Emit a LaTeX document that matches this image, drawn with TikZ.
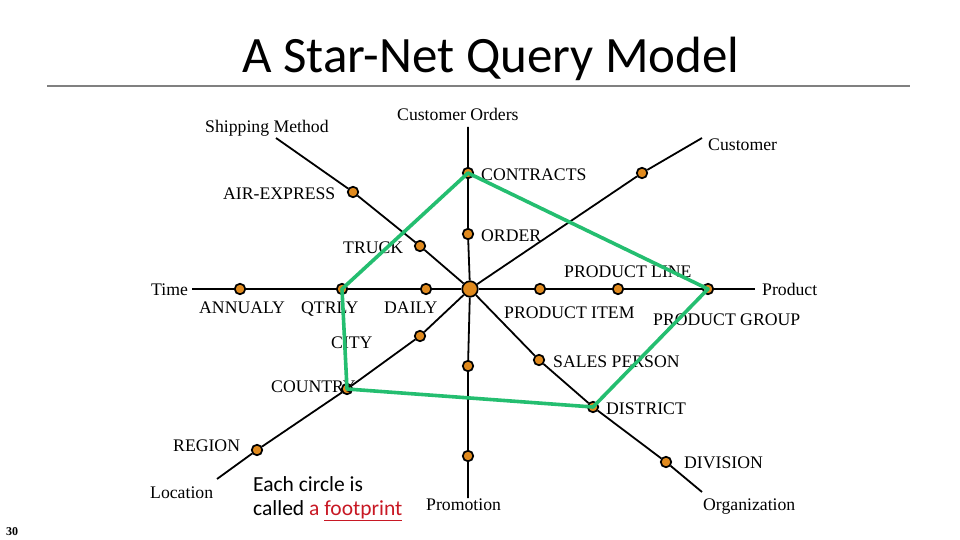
\documentclass[tikz,border=0pt]{standalone}
\usepackage{fontspec}
\setmainfont{Liberation Serif}
\newfontfamily\titlefont{Carlito}
\definecolor{dotorange}{RGB}{224,138,30}
\definecolor{netgreen}{RGB}{36,190,112}
\definecolor{fpred}{RGB}{200,24,36}
\definecolor{rulegray}{RGB}{128,128,128}
\pgfdeclarelayer{back}
\pgfdeclarelayer{bg}
\pgfdeclarelayer{fg}
\pgfsetlayers{back,bg,main,fg}
\begin{document}
\begin{tikzpicture}[x=1pt,y=-1pt,
  dot/.style={circle,draw=black,line width=1.7pt,fill=dotorange,minimum size=10.5pt,inner sep=0pt},
  bigdot/.style={dot,minimum size=15.5pt},
  axis/.style={line width=1.8pt,black},
  lbl/.style={font=\fontsize{17.7}{20}\selectfont,inner sep=0pt,anchor=base west},
  net/.style={line width=3.6pt,netgreen,line join=round},
  fptext/.style={font=\titlefont\fontsize{21.5}{24}\selectfont,inner sep=0pt,anchor=base west}]
\useasboundingbox (0,0) rectangle (960,540);
\begin{pgfonlayer}{back}
\fill[white] (0,0) rectangle (960,540);
\end{pgfonlayer}

% title and rule
\node[font=\titlefont\fontsize{51}{56}\selectfont,inner sep=0pt,anchor=base west] (title) at (242,73) {A Star-Net Query Model};
\coordinate (ruleL) at (47,86);
\coordinate (ruleR) at (910,86);
\draw[rulegray,line width=1.3pt] (ruleL) -- (ruleR);

% axis end points
\coordinate (shipEnd) at (276,138);
\coordinate (coEnd) at (468,127);
\coordinate (cuEnd) at (702,138);
\coordinate (timeEnd) at (192,289);
\coordinate (prodEnd) at (755,289);
\coordinate (locEnd) at (217,479);
\coordinate (promEnd) at (468,498);
\coordinate (orgEnd) at (702,492);

% footprints
\node[bigdot] (c) at (470,289) {};
\node[dot] (truck) at (420,246) {};
\node[dot] (air) at (353,192) {};
\node[dot] (order) at (468,234) {};
\node[dot] (contracts) at (468,173) {};
\node[dot] (cu1) at (642,173) {};
\node[dot] (daily) at (426,289) {};
\node[dot] (qtrly) at (342,289) {};
\node[dot] (annualy) at (240,289) {};
\node[dot] (pitem) at (540,289) {};
\node[dot] (pline) at (618,289) {};
\node[dot] (pgroup) at (708,289) {};
\node[dot] (city) at (420,336) {};
\node[dot] (country) at (347,389) {};
\node[dot] (region) at (257,450) {};
\node[dot] (pr1) at (468,366) {};
\node[dot] (pr2) at (468,456) {};
\node[dot] (sales) at (539,360) {};
\node[dot] (district) at (593,407) {};
\node[dot] (division) at (666,462) {};

\begin{pgfonlayer}{bg}
\draw[axis] (c) -- (truck) -- (air) -- (shipEnd);
\draw[axis] (c) -- (order) -- (contracts) -- (coEnd);
\draw[axis] (c) -- (cu1) -- (cuEnd);
\draw[axis] (c) -- (daily) -- (qtrly) -- (annualy) -- (timeEnd);
\draw[axis] (c) -- (pitem) -- (pline) -- (pgroup) -- (prodEnd);
\draw[axis] (c) -- (city) -- (country) -- (region) -- (locEnd);
\draw[axis] (c) -- (pr1) -- (pr2) -- (promEnd);
\draw[axis] (c) -- (sales) -- (district) -- (division) -- (orgEnd);
\end{pgfonlayer}

\begin{pgfonlayer}{fg}
\draw[net] (contracts.center) -- (pgroup.center) -- (district.center) -- (country.center) -- (qtrly.center) -- cycle;
\end{pgfonlayer}

% dimension labels
\node[lbl] (lship) at (205,133) {Shipping Method};
\node[lbl] (lco) at (397,121) {Customer Orders};
\node[lbl] (lcu) at (708,151) {Customer};
\node[lbl] (ltime) at (151,295) {Time};
\node[lbl] (lprod) at (762,295) {Product};
\node[lbl] (lloc) at (150,498) {Location};
\node[lbl] (lprom) at (426,510) {Promotion};
\node[lbl] (lorg) at (703,510) {Organization};

% level labels
\node[lbl] (tcontracts) at (481,181) {CONTRACTS};
\node[lbl] (tair) at (223,199) {AIR-EXPRESS};
\node[lbl] (ttruck) at (343,253) {TRUCK};
\node[lbl] (torder) at (481,241) {ORDER};
\node[lbl] (tpline) at (564,277) {PRODUCT LINE};
\node[lbl] (tannualy) at (199,313) {ANNUALY};
\node[lbl] (tqtrly) at (301,313) {QTRLY};
\node[lbl] (tdaily) at (384,313) {DAILY};
\node[lbl] (tpitem) at (504,318) {PRODUCT ITEM};
\node[lbl] (tpgroup) at (653,325) {PRODUCT GROUP};
\node[lbl] (tcity) at (331,348) {CITY};
\node[lbl] (tcountry) at (271,392) {COUNTRY};
\node[lbl] (tsales) at (553,367) {SALES PERSON};
\node[lbl] (tdistrict) at (606,414) {DISTRICT};
\node[lbl] (tregion) at (173,451) {REGION};
\node[lbl] (tdivision) at (684,468) {DIVISION};

% note
\node[fptext] (fp1) at (253,491) {Each circle is};
\node[fptext] (fp2) at (253,515) {called \textcolor{fpred}{a \underline{footprint}}};

% slide number
\node[font=\bfseries\fontsize{12}{14}\selectfont,inner sep=0pt,anchor=base west] (num) at (6,535) {30};
\end{tikzpicture}
\end{document}
